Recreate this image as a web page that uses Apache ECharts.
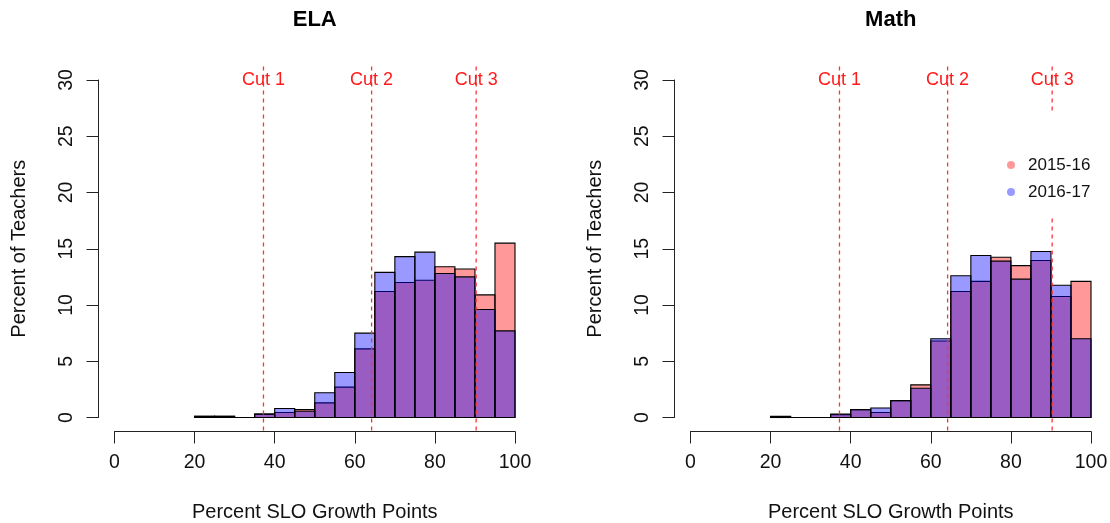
<!DOCTYPE html>
<html>
<head>
<meta charset="utf-8">
<title>SLO growth points</title>
<script src="https://cdn.jsdelivr.net/npm/echarts@6.0.0/dist/echarts.min.js"></script>
<style>
  html, body { margin: 0; padding: 0; background: #fff; }
  #chart { width: 1110px; height: 523px; }
</style>
</head>
<body>
<div id="chart"></div>
<script>
// histogram bins (left edge), 5 points wide
const binStarts = [20, 25, 30, 35, 40, 45, 50, 55, 60, 65, 70, 75, 80, 85, 90, 95];
const binWidth = 5;

// percent of teachers per bin
const elaPrev = [0.1, 0.1, 0, 0.3, 0.45, 0.7, 1.3, 2.7, 6.1, 11.2, 12.0, 12.2, 13.4, 13.2, 10.9, 15.5];
const elaCurr = [0.1, 0.1, 0, 0.3, 0.8, 0.55, 2.2, 4.0, 7.5, 12.9, 14.3, 14.7, 12.8, 12.5, 9.6, 7.7];
const mathPrev = [0.1, 0, 0, 0.25, 0.7, 0.45, 1.5, 2.9, 6.8, 11.2, 12.1, 14.25, 13.5, 13.95, 10.75, 12.1];
const mathCurr = [0.08, 0, 0, 0.3, 0.7, 0.85, 1.5, 2.6, 7.0, 12.6, 14.4, 13.9, 12.3, 14.75, 11.75, 7.0];

const cutScores = [37.2, 64.2, 90.3];
const cutLabels = ['Cut 1', 'Cut 2', 'Cut 3'];
const yearNames = ['2015-16', '2016-17'];
const panelTitles = ['ELA', 'Math'];

const FONT = 'Liberation Sans, Arial, Helvetica, sans-serif';
const RED = 'rgba(255,0,0,0.4)';
const BLUE = 'rgba(0,0,255,0.4)';

function histItem(params, api) {
    const x0 = api.value(0);
    const v = api.value(1);
    const p0 = api.coord([x0, v]);
    const p1 = api.coord([x0 + binWidth, 0]);
    return {
        type: 'rect',
        shape: {x: p0[0], y: p0[1], width: p1[0] - p0[0], height: p1[1] - p0[1]},
        style: {fill: api.visual('color'), stroke: '#000', lineWidth: 1.1}
    };
}

function cutItem(params, api) {
    const x = api.value(0);
    const top = api.coord([x, 31.2]);
    const bot = api.coord([x, -1.2]);
    const lab = api.coord([x, 30]);
    return {
        type: 'group',
        children: [
            {
                type: 'line',
                shape: {x1: top[0], y1: top[1], x2: bot[0], y2: bot[1]},
                style: {stroke: '#ff3030', lineWidth: 1.3, lineDash: [4, 4]}
            },
            {
                type: 'text',
                x: lab[0],
                y: lab[1],
                style: {
                    text: cutLabels[params.dataIndex],
                    fill: '#ff1a1a',
                    font: '18px ' + FONT,
                    align: 'center',
                    verticalAlign: 'middle'
                }
            }
        ]
    };
}

function toBins(vals) {
    return binStarts.map((b, i) => [b, vals[i]]);
}

const panels = [[elaPrev, elaCurr], [mathPrev, mathCurr]];
const gridLefts = [114.5, 690.5];

const series = [];
panels.forEach((p, gi) => {
    series.push({
        name: yearNames[0], type: 'custom', xAxisIndex: gi, yAxisIndex: gi,
        itemStyle: {color: RED}, renderItem: histItem, data: toBins(p[0])
    });
    series.push({
        name: yearNames[1], type: 'custom', xAxisIndex: gi, yAxisIndex: gi,
        itemStyle: {color: BLUE}, renderItem: histItem, data: toBins(p[1])
    });
    series.push({
        name: 'cuts' + gi, type: 'custom', xAxisIndex: gi, yAxisIndex: gi,
        renderItem: cutItem, data: cutScores.map(c => [c, 0]), silent: true
    });
});

const axisText = {fontSize: 19.5, color: '#111', fontFamily: FONT};

const chart = echarts.init(document.getElementById('chart'), null, {renderer: 'canvas'});
chart.setOption({
    animation: false,
    textStyle: {fontFamily: FONT},
    grid: gridLefts.map(l => ({
        left: l, top: 80, width: 400.5, height: 337.5,
        containLabel: false, outerBoundsMode: 'none'
    })),
    xAxis: gridLefts.map((l, i) => ({
        gridIndex: i, type: 'value', min: 0, max: 100, interval: 20, offset: 14,
        axisLine: {show: true, onZero: false, lineStyle: {color: '#222', width: 1}},
        axisTick: {show: true, length: 12, lineStyle: {color: '#222'}},
        axisLabel: Object.assign({margin: 21}, axisText),
        splitLine: {show: false},
        name: 'Percent SLO Growth Points', nameLocation: 'middle', nameGap: 71,
        nameTextStyle: {fontSize: 20, color: '#111', fontFamily: FONT}
    })),
    yAxis: gridLefts.map((l, i) => ({
        gridIndex: i, type: 'value', min: 0, max: 30, interval: 5, offset: 16,
        axisLine: {show: true, onZero: false, lineStyle: {color: '#222', width: 1}},
        axisTick: {show: true, length: 12, lineStyle: {color: '#222'}},
        axisLabel: Object.assign({margin: 22, rotate: 90}, axisText),
        splitLine: {show: false},
        name: 'Percent of Teachers', nameLocation: 'middle', nameGap: 69, nameRotate: 90,
        nameTextStyle: {fontSize: 20, color: '#111', fontFamily: FONT}
    })),
    legend: {
        data: yearNames,
        orient: 'vertical',
        left: 1001,
        top: 112,
        icon: 'circle',
        itemWidth: 24,
        itemHeight: 8,
        itemGap: 7,
        padding: [43, 30, 16, 6],
        backgroundColor: '#fff',
        itemStyle: {borderWidth: 0},
        textStyle: {fontSize: 17, color: '#111', lineHeight: 20, fontFamily: FONT}
    },
    graphic: panelTitles.map((t, i) => ({
        type: 'text',
        x: gridLefts[i] + 200.25,
        y: 20,
        style: {text: t, font: 'bold 22px ' + FONT, fill: '#000', align: 'center', verticalAlign: 'middle'}
    })),
    series: series
});
</script>
</body>
</html>
